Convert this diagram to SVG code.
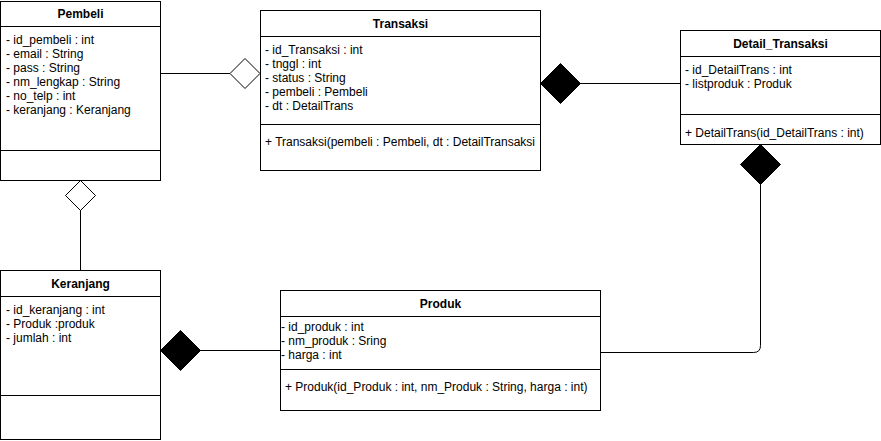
<svg xmlns="http://www.w3.org/2000/svg" width="881" height="441" viewBox="0 0 881 441">
<style>
.box{fill:#fff;stroke:#000;stroke-width:1}
.sep{stroke:#000;stroke-width:1}
.t{font-family:"Liberation Sans",Arial,Helvetica,sans-serif;font-size:12px;fill:#000}
.h{font-weight:bold;text-anchor:middle}
.c{fill:none;stroke:#000;stroke-width:1}
.open{fill:#fff;stroke:#000;stroke-width:1}
.fill{fill:#000;stroke:#000;stroke-width:1}
</style>
<rect width="881" height="441" fill="#fff"/>
<g id="connectors">
<path class="c" d="M160.5 73.5 H230"/>
<path class="open" d="M230 73.5 L245 58.5 L260 73.5 L245 88.5 Z"/>
<path class="c" d="M580 83.5 H680.5"/>
<path class="fill" d="M540.5 83.5 L560.5 63.5 L580.5 83.5 L560.5 103.5 Z"/>
<path class="c" d="M80.5 210 V270.5"/>
<path class="open" d="M80.5 180.5 L95.5 195.5 L80.5 210.5 L65.5 195.5 Z"/>
<path class="c" d="M200 350.5 H280.5"/>
<path class="fill" d="M160.5 350.5 L180.5 330.5 L200.5 350.5 L180.5 370.5 Z"/>
<path class="c" d="M760.5 184 V345.5 Q760.5 352.5 753.5 352.5 H601"/>
<path class="fill" d="M760.5 144.5 L780.5 164.5 L760.5 184.5 L740.5 164.5 Z"/>
</g>
<g id="Pembeli">
<rect class="box" x="0.5" y="1.5" width="160" height="179"/>
<line class="sep" x1="0.5" y1="26.5" x2="160.5" y2="26.5"/>
<line class="sep" x1="0.5" y1="150.5" x2="160.5" y2="150.5"/>
<text class="t h" x="80.5" y="18">Pembeli</text>
<text class="t" x="6" y="44">- id_pembeli : int</text>
<text class="t" x="6" y="58">- email : String</text>
<text class="t" x="6" y="72">- pass : String</text>
<text class="t" x="6" y="86">- nm_lengkap : String</text>
<text class="t" x="6" y="100">- no_telp : int</text>
<text class="t" x="6" y="114">- keranjang : Keranjang</text>
</g>
<g id="Transaksi">
<rect class="box" x="260.5" y="10.5" width="280" height="160"/>
<line class="sep" x1="260.5" y1="36.5" x2="540.5" y2="36.5"/>
<line class="sep" x1="260.5" y1="124.5" x2="540.5" y2="124.5"/>
<text class="t h" x="400.5" y="28">Transaksi</text>
<text class="t" x="265" y="54">- id_Transaksi : int</text>
<text class="t" x="265" y="68">- tnggl : int</text>
<text class="t" x="265" y="82">- status : String</text>
<text class="t" x="265" y="96">- pembeli : Pembeli</text>
<text class="t" x="265" y="110">- dt : DetailTrans</text>
<text class="t" x="265" y="146">+ Transaksi(pembeli : Pembeli, dt : DetailTransaksi</text>
</g>
<g id="Detail_Transaksi">
<rect class="box" x="680.5" y="30.5" width="200" height="114"/>
<line class="sep" x1="680.5" y1="56.5" x2="880.5" y2="56.5"/>
<line class="sep" x1="680.5" y1="114.5" x2="880.5" y2="114.5"/>
<text class="t h" x="780.5" y="48">Detail_Transaksi</text>
<text class="t" x="685" y="74">- id_DetailTrans : int</text>
<text class="t" x="685" y="88">- listproduk : Produk</text>
<text class="t" x="685" y="137">+ DetailTrans(id_DetailTrans : int)</text>
</g>
<g id="Keranjang">
<rect class="box" x="0.5" y="270.5" width="160" height="169"/>
<line class="sep" x1="0.5" y1="296.5" x2="160.5" y2="296.5"/>
<line class="sep" x1="0.5" y1="395.5" x2="160.5" y2="395.5"/>
<text class="t h" x="80.5" y="288">Keranjang</text>
<text class="t" x="6" y="314">- id_keranjang : int</text>
<text class="t" x="6" y="328">- Produk :produk</text>
<text class="t" x="6" y="342">- jumlah : int</text>
</g>
<g id="Produk">
<rect class="box" x="280.5" y="290.5" width="320" height="120"/>
<line class="sep" x1="280.5" y1="316.5" x2="600.5" y2="316.5"/>
<line class="sep" x1="280.5" y1="369.5" x2="600.5" y2="369.5"/>
<text class="t h" x="440.5" y="308">Produk</text>
<text class="t" x="281" y="331">- id_produk : int</text>
<text class="t" x="281" y="345">- nm_produk : Sring</text>
<text class="t" x="281" y="359">- harga : int</text>
<text class="t" x="285" y="391">+ Produk(id_Produk : int, nm_Produk : String, harga : int)</text>
</g>
</svg>
